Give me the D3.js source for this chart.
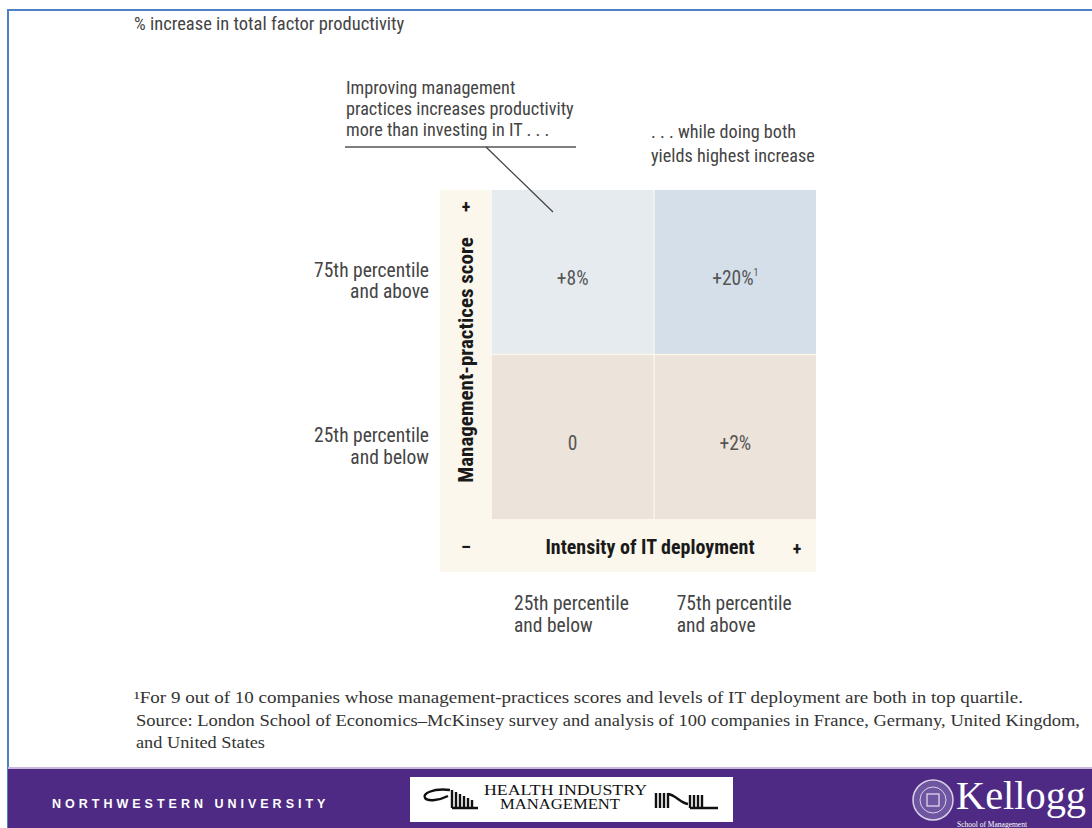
<!DOCTYPE html>
<html>
<head>
<meta charset="utf-8">
<script src="https://cdn.jsdelivr.net/npm/d3@7"></script>
<style>
  body { margin: 0; background: #fff; }
  svg { display: block; }
</style>
</head>
<body>
<div id="chart"></div>
<script>
// data
const itLevels = ["25th percentile|and below", "75th percentile|and above"];
const mgmtLevels = ["75th percentile|and above", "25th percentile|and below"];
const cellValues = [
  {mgmt: "75th percentile|and above", it: "25th percentile|and below", label: "+8%", note: ""},
  {mgmt: "75th percentile|and above", it: "75th percentile|and above", label: "+20%", note: "1"},
  {mgmt: "25th percentile|and below", it: "25th percentile|and below", label: "0", note: ""},
  {mgmt: "25th percentile|and below", it: "75th percentile|and above", label: "+2%", note: ""}
];
const cellColors = ["#e6ebf0", "#d4dfea", "#ece3da", "#ece3da"];
const leftNote = ["Improving management", "practices increases productivity", "more than investing in IT . . ."];
const rightNote = [". . . while doing both", "yields highest increase"];
const footnotes = [
  "\u00b9For 9 out of 10 companies whose management-practices scores and levels of IT deployment are both in top quartile.",
  "Source: London School of Economics\u2013McKinsey survey and analysis of 100 companies in France, Germany, United Kingdom,",
  "and United States"
];

const W = 1092, H = 828;
const narrow = "'Liberation Sans Narrow', 'Arial Narrow', 'Roboto Condensed', Roboto, sans-serif";
const serif = "'Liberation Serif', 'DejaVu Serif', serif";

const svg = d3.select("#chart").append("svg")
  .attr("width", W).attr("height", H);

// frame
svg.append("rect").attr("x", 0).attr("y", 0).attr("width", W).attr("height", H).attr("fill", "#fff");
svg.append("path")
  .attr("d", "M8,828 V10 H1092")
  .attr("fill", "none").attr("stroke", "#4f81c7").attr("stroke-width", 2);

// title
svg.append("text")
  .attr("x", 134).attr("y", 30)
  .attr("font-family", narrow).attr("font-size", 18.5).attr("fill", "#444")
  .text("% increase in total factor productivity");

// scales
const x = d3.scaleBand().domain(itLevels).range([492, 816]).paddingInner(0.008);
const y = d3.scaleBand().domain(mgmtLevels).range([190, 519]).paddingInner(0.008);

// cream axis panel
svg.append("rect")
  .attr("x", 440).attr("y", 190)
  .attr("width", 816 - 440).attr("height", 572 - 190)
  .attr("fill", "#fbf7ec");

// cells
const cells = svg.append("g").selectAll("g")
  .data(cellValues)
  .join("g");

cells.append("rect")
  .attr("x", d => x(d.it))
  .attr("y", d => y(d.mgmt))
  .attr("width", x.bandwidth())
  .attr("height", y.bandwidth())
  .attr("fill", (d, i) => cellColors[i]);

const cellText = cells.append("text")
  .attr("x", d => x(d.it) + x.bandwidth() / 2)
  .attr("y", d => y(d.mgmt) + y.bandwidth() / 2 + 13)
  .attr("text-anchor", "middle")
  .attr("font-family", narrow).attr("font-size", 19.5).attr("fill", "#555")
  .text(d => d.label);
cellText.filter(d => d.note)
  .append("tspan")
  .attr("font-size", 10).attr("dy", -9)
  .text(d => d.note);

// row labels
svg.append("g").selectAll("text")
  .data(mgmtLevels)
  .join("text")
  .attr("x", 429)
  .attr("y", d => y(d) + y.bandwidth() / 2 + 5)
  .attr("text-anchor", "end")
  .attr("font-family", narrow).attr("font-size", 19.5).attr("fill", "#444")
  .selectAll("tspan")
  .data(d => d.split("|"))
  .join("tspan")
  .attr("x", 429)
  .attr("dy", (d, i) => i === 0 ? 0 : 21.5)
  .text(d => d);

// column labels
svg.append("g").selectAll("text")
  .data(itLevels)
  .join("text")
  .attr("x", d => x(d) + 22)
  .attr("y", 610)
  .attr("font-family", narrow).attr("font-size", 19.5).attr("fill", "#444")
  .selectAll("tspan")
  .data(d => d.split("|"))
  .join("tspan")
  .attr("x", function() { return d3.select(this.parentNode).attr("x"); })
  .attr("dy", (d, i) => i === 0 ? 0 : 21.5)
  .text(d => d);

// axis titles
const dark = "#1a1a1a";
svg.append("text")
  .attr("transform", "translate(473,360) rotate(-90)")
  .attr("text-anchor", "middle")
  .attr("font-family", narrow).attr("font-size", 21)
  .attr("font-weight", "bold").attr("fill", dark)
  .text("Management-practices score");
svg.append("text")
  .attr("x", 466).attr("y", 213).attr("text-anchor", "middle")
  .attr("font-family", narrow).attr("font-size", 18)
  .attr("font-weight", "bold").attr("fill", dark)
  .text("+");
svg.append("text")
  .attr("x", 466).attr("y", 553).attr("text-anchor", "middle")
  .attr("font-family", narrow).attr("font-size", 18)
  .attr("font-weight", "bold").attr("fill", dark)
  .text("\u2013");
svg.append("text")
  .attr("x", 650).attr("y", 554).attr("text-anchor", "middle")
  .attr("font-family", narrow).attr("font-size", 20)
  .attr("font-weight", "bold").attr("fill", dark)
  .text("Intensity of IT deployment");
svg.append("text")
  .attr("x", 797).attr("y", 555).attr("text-anchor", "middle")
  .attr("font-family", narrow).attr("font-size", 18)
  .attr("font-weight", "bold").attr("fill", dark)
  .text("+");

// annotations
svg.append("g").selectAll("text")
  .data(leftNote)
  .join("text")
  .attr("x", 346)
  .attr("y", (d, i) => 94 + i * 21)
  .attr("font-family", narrow).attr("font-size", 18.2).attr("fill", "#444")
  .text(d => d);
svg.append("line")
  .attr("x1", 345).attr("x2", 576).attr("y1", 147).attr("y2", 147)
  .attr("stroke", "#555").attr("stroke-width", 1.5);
svg.append("line")
  .attr("x1", 486).attr("y1", 147).attr("x2", 553).attr("y2", 212)
  .attr("stroke", "#444").attr("stroke-width", 1.3);

svg.append("g").selectAll("text")
  .data(rightNote)
  .join("text")
  .attr("x", 651)
  .attr("y", (d, i) => 138 + i * 23.5)
  .attr("font-family", narrow).attr("font-size", 18.2).attr("fill", "#444")
  .text(d => d);

// footnotes
const footLen = [889, 944, 129];
svg.append("g").selectAll("text")
  .data(footnotes)
  .join("text")
  .attr("x", (d, i) => i === 0 ? 134 : 136)
  .attr("y", (d, i) => [703, 726, 748][i])
  .attr("font-family", serif).attr("font-size", 16.5).attr("fill", "#333")
  .attr("textLength", (d, i) => footLen[i])
  .attr("lengthAdjust", "spacingAndGlyphs")
  .text(d => d);

// footer band
svg.append("rect").attr("x", 8).attr("y", 767).attr("width", W - 8).attr("height", 2).attr("fill", "#c9b8dd");
svg.append("rect").attr("x", 8).attr("y", 769).attr("width", W - 8).attr("height", H - 769).attr("fill", "#4e2a84");
svg.append("text")
  .attr("x", 52).attr("y", 808)
  .attr("font-family", "'Liberation Sans', Arial, sans-serif").attr("font-size", 12.5)
  .attr("font-weight", "bold").attr("letter-spacing", 4).attr("fill", "#fff")
  .text("NORTHWESTERN UNIVERSITY");

// health industry management logo
const him = svg.append("g");
him.append("rect").attr("x", 410).attr("y", 777).attr("width", 323).attr("height", 45).attr("fill", "#fff");
him.append("text").attr("x", 484).attr("y", 795)
  .attr("font-family", serif).attr("font-size", 14).attr("fill", "#111")
  .attr("textLength", 163).attr("lengthAdjust", "spacingAndGlyphs")
  .text("HEALTH INDUSTRY");
him.append("text").attr("x", 500).attr("y", 809)
  .attr("font-family", serif).attr("font-size", 14).attr("fill", "#111")
  .attr("textLength", 120).attr("lengthAdjust", "spacingAndGlyphs")
  .text("MANAGEMENT");
him.append("path")
  .attr("d", "M450,790 C432,788 422,794 425,798 C428,802 440,800 448,796 " +
    "M452,790 V808 M456,792 V808 M460,794 V808 M464,796 V808 M468,798 V808 M472,800 V808 M452,808 H478")
  .attr("fill", "none").attr("stroke", "#111").attr("stroke-width", 2.4);
him.append("path")
  .attr("d", "M656,793 V808 M660,793 V808 M664,793 V808 M668,793 V808 " +
    "M668,794 C676,795 680,803 688,804 M690,795 V808 M694,795 V808 M698,795 V808 M702,795 V808 M690,808 H718")
  .attr("fill", "none").attr("stroke", "#111").attr("stroke-width", 2.4);

// kellogg logo
const k = svg.append("g");
k.append("circle").attr("cx", 933).attr("cy", 800).attr("r", 20)
  .attr("fill", "#6f56a0").attr("stroke", "#d9d0ea").attr("stroke-width", 1.5);
k.append("circle").attr("cx", 933).attr("cy", 800).attr("r", 13)
  .attr("fill", "none").attr("stroke", "#d9d0ea").attr("stroke-width", 1);
k.append("rect").attr("x", 927).attr("y", 794).attr("width", 12).attr("height", 12)
  .attr("fill", "none").attr("stroke", "#e8e2f2").attr("stroke-width", 1.2);
k.append("text").attr("x", 956).attr("y", 809)
  .attr("font-family", serif).attr("font-size", 40).attr("fill", "#fff")
  .attr("textLength", 130).attr("lengthAdjust", "spacingAndGlyphs")
  .text("Kellogg");
k.append("text").attr("x", 957).attr("y", 827)
  .attr("font-family", serif).attr("font-size", 7.5).attr("fill", "#fff")
  .text("School of Management");
</script>
</body>
</html>
